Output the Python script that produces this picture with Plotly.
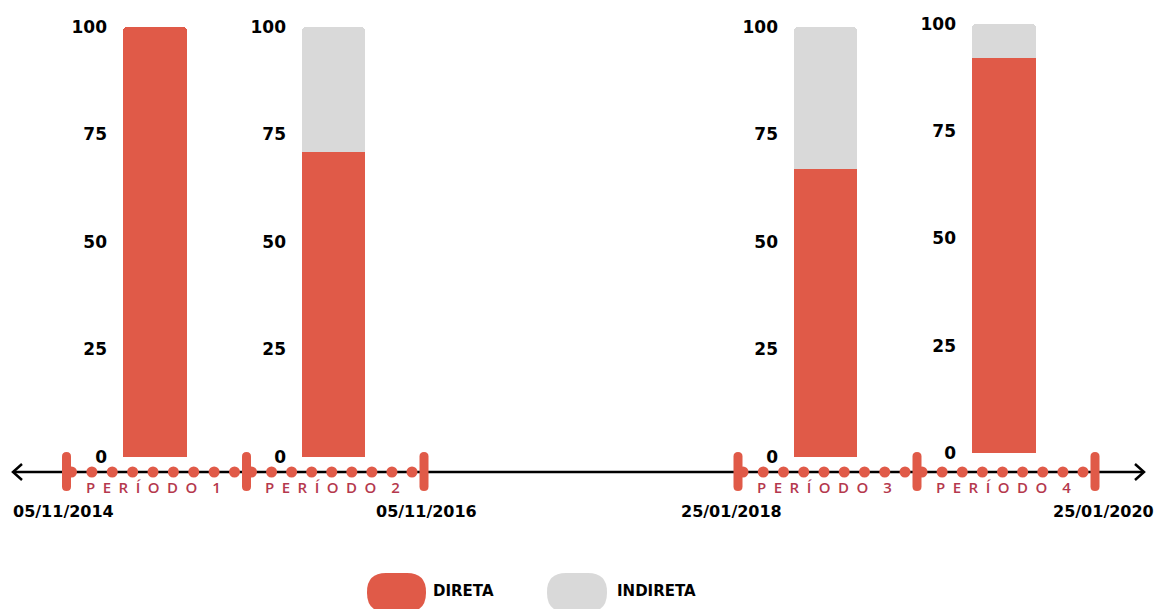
import plotly.graph_objects as go

# ---------------- data ----------------
periods = ["PERÍODO 1", "PERÍODO 2", "PERÍODO 3", "PERÍODO 4"]
direta = [100, 71, 67, 92]
indireta = [0, 29, 33, 8]
y_ticks = [0, 25, 50, 75, 100]
start_dates = ["05/11/2014", "25/01/2018"]
end_dates = ["05/11/2016", "25/01/2020"]
series_names = ["DIRETA", "INDIRETA"]

# ---------------- style / layout ----------------
W, H = 1157, 609
RED = "#e05a48"
GRAY = "#d9d9d9"
LABEL = "#b5384d"
FONT = "Open Sans"
BOLD = "DejaVu Sans"


def fx(x):
    return x / W


def fy(y):
    return 1 - y / H


bar_px = [(123, 187), (302, 365), (794, 857), (972, 1036)]
axis_px = [(457, 27), (457, 27), (457, 27), (453, 24)]
tick_px = [66.5, 246.5, 424, 738, 917, 1095]
segments = [(66.5, 246.5), (246.5, 424), (738, 917), (917, 1095)]
LINE_Y = 472

fig = go.Figure()
layout = dict(
    width=W, height=H, margin=dict(l=0, r=0, t=0, b=0, autoexpand=False),
    paper_bgcolor="white", plot_bgcolor="white",
    barmode="stack", barcornerradius=4, showlegend=False,
)

for i in range(4):
    ax = "" if i == 0 else str(i + 1)
    fig.add_bar(x=[periods[i]], y=[direta[i] if direta[i] else None], name=series_names[0],
                marker=dict(color=RED, line=dict(width=0)), width=1,
                xaxis="x" + ax, yaxis="y" + ax)
    fig.add_bar(x=[periods[i]], y=[indireta[i] if indireta[i] else None], name=series_names[1],
                marker=dict(color=GRAY, line=dict(width=0)), width=1,
                xaxis="x" + ax, yaxis="y" + ax)
    x0, x1 = bar_px[i]
    y0, y1 = axis_px[i]
    layout["xaxis" + ax] = dict(domain=[fx(x0), fx(x1)], range=[-0.5, 0.5],
                                visible=False, anchor="y" + ax, fixedrange=True,
                                automargin=False)
    layout["yaxis" + ax] = dict(domain=[fy(y0), fy(y1)], range=[0, 100],
                                anchor="x" + ax, tickvals=y_ticks, automargin=False,
                                showgrid=False, zeroline=False, showline=False,
                                ticks="", ticklabelstandoff=15, fixedrange=True,
                                tickfont=dict(family=BOLD, size=17, color="black",
                                              weight="bold"))

shapes = []
annotations = []

# timeline axis with arrows
shapes.append(dict(type="line", xref="paper", yref="paper",
                   x0=fx(14), x1=fx(1143), y0=fy(LINE_Y), y1=fy(LINE_Y),
                   line=dict(color="black", width=2.5)))
shapes.append(dict(type="path", xref="paper", yref="paper",
                   path=f"M {fx(22)},{fy(464)} L {fx(13)},{fy(LINE_Y)} L {fx(22)},{fy(480)}",
                   line=dict(color="black", width=2.5)))
shapes.append(dict(type="path", xref="paper", yref="paper",
                   path=f"M {fx(1135)},{fy(464)} L {fx(1144)},{fy(LINE_Y)} L {fx(1135)},{fy(480)}",
                   line=dict(color="black", width=2.5)))

# dots
for a, b in segments:
    s, e = a + 5, b - 12
    for k in range(9):
        cx = s + k * (e - s) / 8
        shapes.append(dict(type="circle", xref="paper", yref="paper",
                           x0=fx(cx - 5.5), x1=fx(cx + 5.5),
                           y0=fy(LINE_Y - 5.5), y1=fy(LINE_Y + 5.5),
                           fillcolor=RED, line=dict(width=0)))


def capsule(x0, x1, y0, y1, r):
    # rounded rectangle in pixel coords (y down) -> paper path
    P = lambda x, y: f"{fx(x)},{fy(y)}"
    return (f"M {P(x0 + r, y0)} L {P(x1 - r, y0)} Q {P(x1, y0)} {P(x1, y0 + r)} "
            f"L {P(x1, y1 - r)} Q {P(x1, y1)} {P(x1 - r, y1)} "
            f"L {P(x0 + r, y1)} Q {P(x0, y1)} {P(x0, y1 - r)} "
            f"L {P(x0, y0 + r)} Q {P(x0, y0)} {P(x0 + r, y0)} Z")


# tick marks
for t in tick_px:
    shapes.append(dict(type="path", xref="paper", yref="paper",
                       path=capsule(t - 4.5, t + 4.5, 452, 491, 4.5),
                       fillcolor=RED, line=dict(width=0)))

# period labels
for i, (a, b) in enumerate(segments):
    word, num = periods[i].split(" ")
    txt = "\u2002".join(list(word)) + "\u2002\u2002" + num
    annotations.append(dict(x=fx((a + b) / 2 - 3), y=fy(487), xref="paper", yref="paper",
                            text=txt, showarrow=False, xanchor="center", yanchor="middle",
                            font=dict(family=FONT, size=15, color=LABEL, weight=600)))

# date labels
date_font = dict(family=BOLD, size=16, color="black", weight="bold")
for d, x in zip(start_dates, [11, 679]):
    annotations.append(dict(x=fx(x), y=fy(511), xref="paper", yref="paper", text=d,
                            showarrow=False, xanchor="left", yanchor="middle", font=date_font))
for d, x in zip(end_dates, [479, 1156]):
    annotations.append(dict(x=fx(x), y=fy(511), xref="paper", yref="paper", text=d,
                            showarrow=False, xanchor="right", yanchor="middle", font=date_font))

# legend (pills + labels)
for name, col, (px0, px1), tx in zip(series_names, [RED, GRAY],
                                     [(367, 426), (547, 607)], [431, 615]):
    shapes.append(dict(type="path", xref="paper", yref="paper",
                       path=capsule(px0, px1, 573, 612, 19),
                       fillcolor=col, line=dict(width=0)))
    annotations.append(dict(x=fx(tx), y=fy(591), xref="paper", yref="paper", text=name,
                            showarrow=False, xanchor="left", yanchor="middle",
                            font=dict(family=BOLD, size=15, color="black", weight="bold")))

layout["shapes"] = shapes
layout["annotations"] = annotations
fig.update_layout(**layout)

fig.write_html("out.html", config={"displayModeBar": False})
